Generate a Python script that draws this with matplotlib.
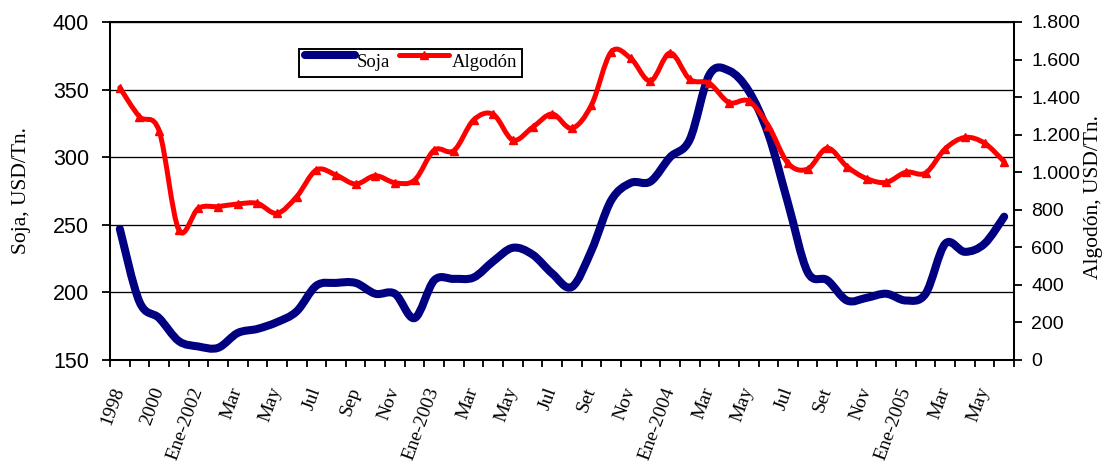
import numpy as np
import matplotlib
matplotlib.use("Agg")
import matplotlib.pyplot as plt
from matplotlib.path import Path
from matplotlib.patches import PathPatch
from matplotlib.lines import Line2D
from matplotlib.legend_handler import HandlerLine2D
from matplotlib.ticker import FuncFormatter, FixedLocator

# Categorías mensuales (los primeros cuatro son promedios anuales)
categorias = [
    "1998", "1999", "2000", "2001",
    "Ene-2002", "Feb", "Mar", "Abr", "May", "Jun", "Jul", "Ago", "Sep", "Oct", "Nov", "Dic",
    "Ene-2003", "Feb", "Mar", "Abr", "May", "Jun", "Jul", "Ago", "Set", "Oct", "Nov", "Dic",
    "Ene-2004", "Feb", "Mar", "Abr", "May", "Jun", "Jul", "Ago", "Set", "Oct", "Nov", "Dic",
    "Ene-2005", "Feb", "Mar", "Abr", "May", "Jun",
]

# Precios en USD/Tn.
soja = [247, 193, 181, 164, 160, 159, 170, 173, 178, 186, 205, 207, 207, 199, 199, 181,
        209, 210, 211, 223, 233, 228, 214, 204, 231, 268, 281, 282, 300, 313, 361, 364,
        349, 317, 266, 215, 209, 194, 196, 199, 194, 199, 236, 230, 236, 256]
algodon = [1450, 1296, 1220, 693, 808, 817, 831, 834, 781, 870, 1012, 985, 937, 981, 944, 958,
           1118, 1115, 1278, 1308, 1171, 1239, 1310, 1234, 1358, 1640, 1606, 1486, 1635, 1495,
           1473, 1371, 1379, 1248, 1048, 1017, 1128, 1030, 966, 946, 1000, 996, 1125, 1185, 1155, 1056]

AZUL = "#000080"
ROJO = "#FF0000"
SERIF = "Liberation Serif"
SANS = "Liberation Sans"

plt.rcParams["font.family"] = SERIF


def curva_suave(x, y):
    """Trazo suavizado (Bezier cúbico tipo Catmull-Rom) que pasa por cada punto."""
    x = np.asarray(x, float)
    y = np.asarray(y, float)
    n = len(x)
    verts = [(x[0], y[0])]
    codes = [Path.MOVETO]
    for i in range(n - 1):
        a = i - 1 if i > 0 else i
        d = i + 2 if i + 2 < n else i + 1
        c1 = (x[i] + (x[i + 1] - x[a]) / 6.0, y[i] + (y[i + 1] - y[a]) / 6.0)
        c2 = (x[i + 1] - (x[d] - x[i]) / 6.0, y[i + 1] - (y[d] - y[i]) / 6.0)
        verts += [c1, c2, (x[i + 1], y[i + 1])]
        codes += [Path.CURVE4] * 3
    return Path(verts, codes)


class LineaElevada(HandlerLine2D):
    """Muestra de leyenda desplazada hacia arriba respecto del texto."""
    def __init__(self, desplazamiento, **kw):
        super().__init__(**kw)
        self.desplazamiento = desplazamiento

    def create_artists(self, legend, orig_handle, xdescent, ydescent, width, height, fontsize, trans):
        return super().create_artists(legend, orig_handle, xdescent, ydescent - self.desplazamiento,
                                      width, height, fontsize, trans)


x = np.arange(len(categorias))

fig = plt.figure(figsize=(11.04, 4.62), dpi=100)
ax = fig.add_axes([110 / 1104, 1 - 360 / 462, 904 / 1104, 338 / 462])
ax2 = ax.twinx()

# Soja (eje izquierdo)
ax.add_patch(PathPatch(curva_suave(x, soja), fill=False, edgecolor=AZUL, lw=5.8,
                       capstyle="round", joinstyle="round", zorder=3))
# Algodón (eje derecho)
ax2.add_patch(PathPatch(curva_suave(x, algodon), fill=False, edgecolor=ROJO, lw=3.6,
                        capstyle="round", joinstyle="round", zorder=3))
ax2.plot(x, algodon, linestyle="none", marker="^", markersize=6, color=ROJO, zorder=4)

ax.set_xlim(-0.5, len(categorias) - 0.5)
ax.set_ylim(150, 400)
ax2.set_ylim(0, 1800)

ax.set_yticks(np.arange(150, 401, 50))
ax2.set_yticks(np.arange(0, 1801, 200))
ax2.yaxis.set_major_formatter(FuncFormatter(lambda v, _: f"{int(v):,}".replace(",", ".")))

# Marcas entre categorías, etiquetas cada dos meses
ax.xaxis.set_major_locator(FixedLocator(np.arange(-0.5, len(categorias), 1.0)))
ax.xaxis.set_major_formatter(FuncFormatter(lambda v, _: ""))
pos_etiquetas = x[::2]
ax.set_xticks(pos_etiquetas, [categorias[i] for i in pos_etiquetas], minor=True)
ax.tick_params(axis="x", which="major", direction="out", length=5, width=1.3, color="black")
ax.tick_params(axis="x", which="minor", length=0, pad=20, labelsize=14)
for t in ax.get_xticklabels(minor=True):
    t.set_rotation(70)
    t.set_ha("right")
    t.set_va("center")
    t.set_rotation_mode("anchor")
    t.set_fontfamily(SERIF)

ax.tick_params(axis="y", direction="out", length=6, width=1.3, pad=9, labelsize=15.5)
ax2.tick_params(axis="y", direction="out", length=5.5, width=1.3, pad=7, labelsize=14)
for t in ax.get_yticklabels() + ax2.get_yticklabels():
    t.set_fontfamily(SANS)

ax.yaxis.grid(True, color="black", lw=0.95)
ax.set_axisbelow(True)

for a in (ax, ax2):
    for s in a.spines.values():
        s.set_linewidth(1.45)
        s.set_color("black")

ax.set_ylabel("Soja, USD/Tn.", fontsize=15.5, fontfamily=SERIF)
ax.yaxis.set_label_coords(-0.087, 0.5)
ax2.set_ylabel("Algodón, USD/Tn.", fontsize=15.5, fontfamily=SERIF)
ax2.yaxis.set_label_coords(1.077, 0.482)

h_soja = Line2D([], [], color=AZUL, lw=5.8, solid_capstyle="round")
h_alg = Line2D([], [], color=ROJO, lw=3.6, marker="^", markersize=6, solid_capstyle="round")
leg = ax2.legend([h_soja, h_alg], ["Soja", "Algodón"], ncol=2, loc="upper left",
                 bbox_to_anchor=(0.209, 0.921), borderaxespad=0, fancybox=False,
                 edgecolor="black", framealpha=1, fontsize=13.5, handlelength=2.7,
                 handletextpad=0.1, columnspacing=0.45, borderpad=0.3, numpoints=1,
                 handler_map={Line2D: LineaElevada(9)})
leg.get_frame().set_linewidth(1.4)

fig.savefig("out.png", dpi=100)
